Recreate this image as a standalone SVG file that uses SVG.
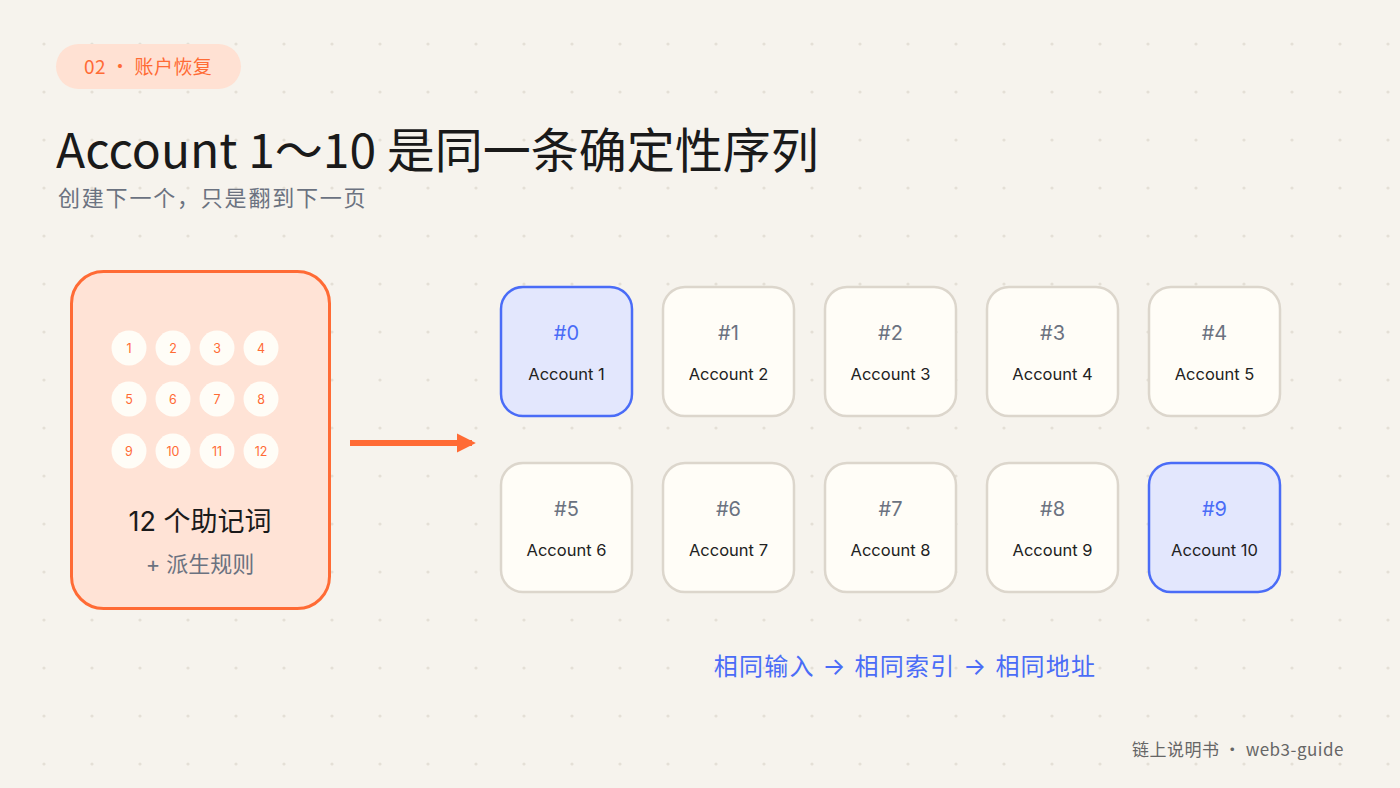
<svg xmlns="http://www.w3.org/2000/svg" width="1400" height="788" viewBox="0 0 1400 788">
<defs>
<pattern id="dots" x="20" y="20" width="48" height="48" patternUnits="userSpaceOnUse"><circle cx="24" cy="24" r="1.6" fill="#e4dfd6"/></pattern>
<marker id="ah" viewBox="0 0 10 10" refX="8" refY="5" markerWidth="3.2" markerHeight="3.2" orient="auto"><path d="M0,0 L10,5 L0,10 z" fill="#ff6b35"/></marker>
<style>
text{font-family:"Inter","Noto Sans CJK SC",sans-serif}
.cjk{font-family:"Noto Sans CJK SC",sans-serif}
.acc rect{fill:#fffdf7;stroke:#dcd6cc;stroke-width:2.5}
.acc.hl rect{fill:#e3e7fd;stroke:#4a6cf7}
.idx{font-size:20px;fill:#6b7280;text-anchor:middle}
.hl .idx{fill:#4a6cf7}
.nm{font-size:16.5px;fill:#222;text-anchor:middle}
.w circle{fill:#fffdf7}
.w text{font-size:12.5px;fill:#ff6b35;text-anchor:middle}
</style>
</defs>
<rect width="1400" height="788" fill="#f6f3ed"/>
<rect width="1400" height="788" fill="url(#dots)"/>
<g id="tag"><rect x="56" y="44" width="185" height="45" rx="22.5" fill="#ffe1d3"/><text class="cjk" x="84" y="74" font-size="19" fill="#ff6b35" letter-spacing="0.4">02 · 账户恢复</text></g>
<text class="cjk" x="56" y="168" font-size="48" fill="#1a1a1a">Account 1～10 是同一条确定性序列</text>
<text x="58" y="206" font-size="22" fill="#6b7280" letter-spacing="1.8">创建下一个，只是翻到下一页</text>
<g id="mnemonic">
<rect x="71.5" y="271.5" width="258" height="337" rx="32" fill="#ffe3d6" stroke="#ff6b35" stroke-width="3"/>
<g class="w">
<circle cx="129" cy="348" r="17.5"/><text x="129" y="352.5">1</text>
<circle cx="173" cy="348" r="17.5"/><text x="173" y="352.5">2</text>
<circle cx="217" cy="348" r="17.5"/><text x="217" y="352.5">3</text>
<circle cx="261" cy="348" r="17.5"/><text x="261" y="352.5">4</text>
<circle cx="129" cy="399" r="17.5"/><text x="129" y="403.5">5</text>
<circle cx="173" cy="399" r="17.5"/><text x="173" y="403.5">6</text>
<circle cx="217" cy="399" r="17.5"/><text x="217" y="403.5">7</text>
<circle cx="261" cy="399" r="17.5"/><text x="261" y="403.5">8</text>
<circle cx="129" cy="451" r="17.5"/><text x="129" y="455.5">9</text>
<circle cx="173" cy="451" r="17.5"/><text x="173" y="455.5">10</text>
<circle cx="217" cy="451" r="17.5"/><text x="217" y="455.5">11</text>
<circle cx="261" cy="451" r="17.5"/><text x="261" y="455.5">12</text>
</g>
<text x="200" y="531" font-size="27" fill="#1a1a1a" text-anchor="middle">12 个助记词</text>
<text x="200" y="572" font-size="22" fill="#6b7280" text-anchor="middle">+ 派生规则</text>
</g>
<g id="connectors"><line x1="350" y1="443" x2="472" y2="443" stroke="#ff6b35" stroke-width="6" marker-end="url(#ah)"/></g>
<g id="a0" class="acc hl"><rect x="501" y="287" width="131" height="129" rx="22"/><text class="idx" x="566.5" y="340">#0</text><text class="nm" x="566.5" y="380">Account 1</text></g>
<g id="a1" class="acc"><rect x="663" y="287" width="131" height="129" rx="22"/><text class="idx" x="728.5" y="340">#1</text><text class="nm" x="728.5" y="380">Account 2</text></g>
<g id="a2" class="acc"><rect x="825" y="287" width="131" height="129" rx="22"/><text class="idx" x="890.5" y="340">#2</text><text class="nm" x="890.5" y="380">Account 3</text></g>
<g id="a3" class="acc"><rect x="987" y="287" width="131" height="129" rx="22"/><text class="idx" x="1052.5" y="340">#3</text><text class="nm" x="1052.5" y="380">Account 4</text></g>
<g id="a4" class="acc"><rect x="1149" y="287" width="131" height="129" rx="22"/><text class="idx" x="1214.5" y="340">#4</text><text class="nm" x="1214.5" y="380">Account 5</text></g>
<g id="a5" class="acc"><rect x="501" y="463" width="131" height="129" rx="22"/><text class="idx" x="566.5" y="516">#5</text><text class="nm" x="566.5" y="556">Account 6</text></g>
<g id="a6" class="acc"><rect x="663" y="463" width="131" height="129" rx="22"/><text class="idx" x="728.5" y="516">#6</text><text class="nm" x="728.5" y="556">Account 7</text></g>
<g id="a7" class="acc"><rect x="825" y="463" width="131" height="129" rx="22"/><text class="idx" x="890.5" y="516">#7</text><text class="nm" x="890.5" y="556">Account 8</text></g>
<g id="a8" class="acc"><rect x="987" y="463" width="131" height="129" rx="22"/><text class="idx" x="1052.5" y="516">#8</text><text class="nm" x="1052.5" y="556">Account 9</text></g>
<g id="a9" class="acc hl"><rect x="1149" y="463" width="131" height="129" rx="22"/><text class="idx" x="1214.5" y="516">#9</text><text class="nm" x="1214.5" y="556">Account 10</text></g>
<text x="905" y="675" font-size="24" fill="#4a6cf7" text-anchor="middle" letter-spacing="1.2">相同输入 → 相同索引 → 相同地址</text>
<text class="cjk" x="1344" y="756" font-size="17" fill="#666" text-anchor="end" letter-spacing="0.5">链上说明书 · web3-guide</text>
</svg>
